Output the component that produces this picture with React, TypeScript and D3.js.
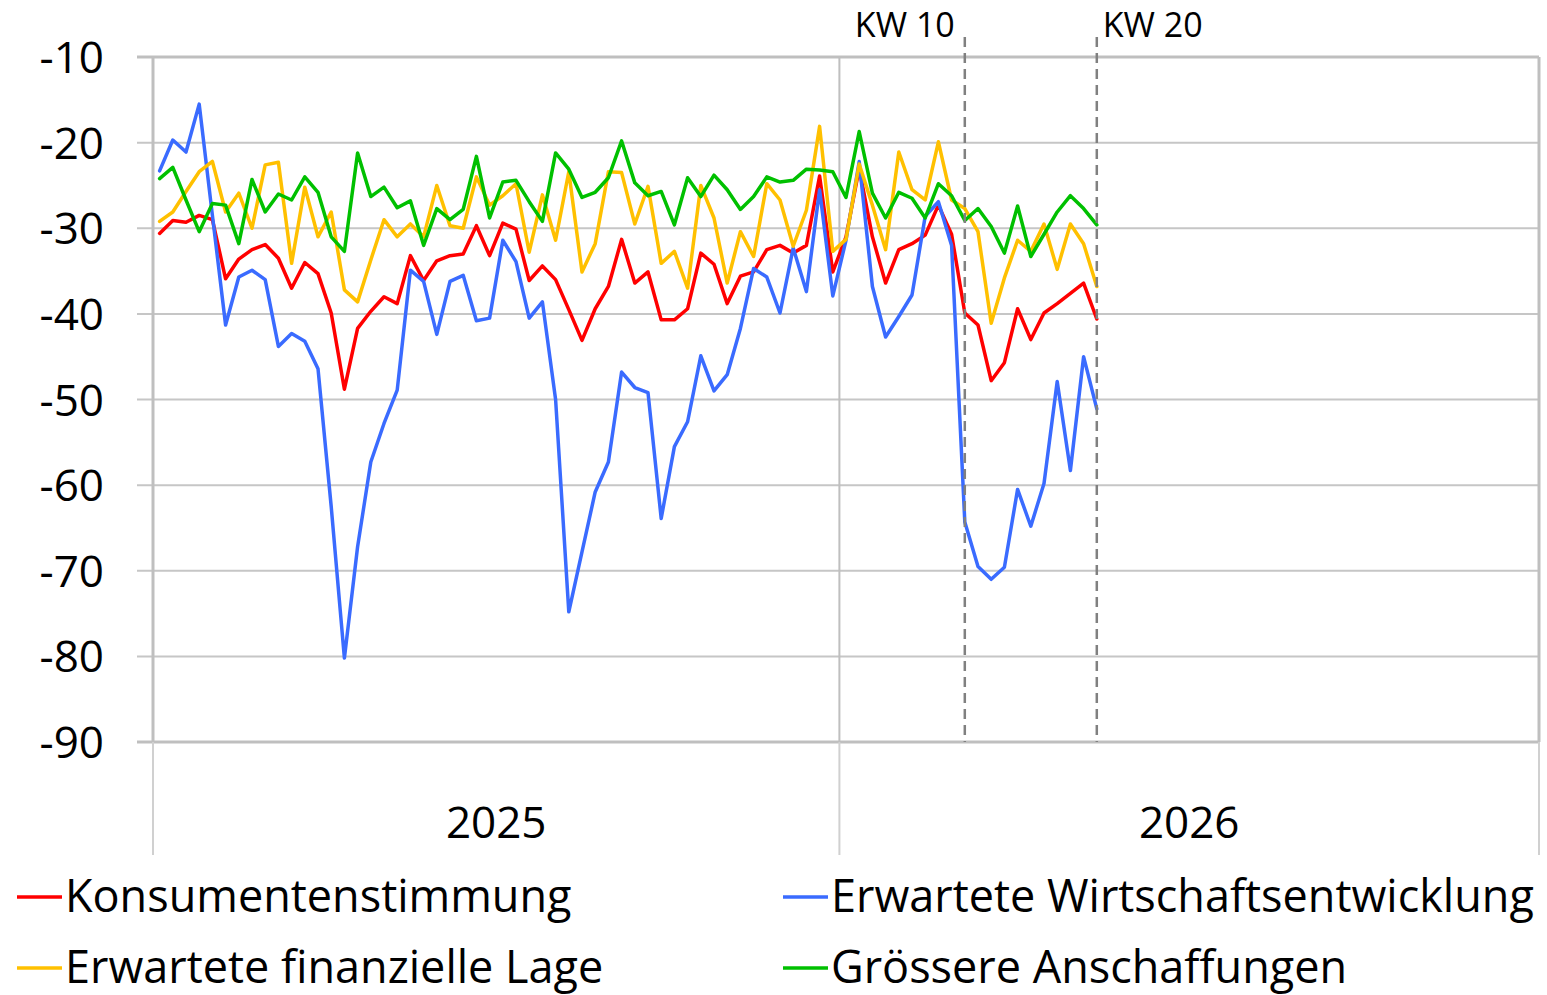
import React from "react";
import * as d3 from "d3";

const years = ["2025", "2026"];
const weeksPerYear = [52, 53];
const yTicks = [-10, -20, -30, -40, -50, -60, -70, -80, -90];
const markers = [
  { label: "KW 10", yearIndex: 1, week: 10, side: "left" },
  { label: "KW 20", yearIndex: 1, week: 20, side: "right" },
];

const konsumentenstimmung = [
  -30.6, -29.1, -29.3, -28.5, -29.0, -35.9, -33.6, -32.5, -31.9, -33.5, -37.0, -34.0, -35.3, -39.9,
  -48.8, -41.7, -39.7, -38.0, -38.8, -33.2, -36.1, -33.8, -33.2, -33.0, -29.7, -33.2, -29.4, -30.1,
  -36.1, -34.4, -36.0, -39.5, -43.1, -39.4, -36.8, -31.3, -36.4, -35.1, -40.7, -40.7, -39.4, -32.9,
  -34.2, -38.8, -35.6, -35.1, -32.5, -32.0, -32.9, -32.0, -23.9, -35.1,
  -31.0, -23.0, -31.0, -36.4, -32.5, -31.8, -30.8, -27.3, -30.7, -39.9, -41.3, -47.8, -45.7, -39.4,
  -43.0, -39.9, -38.8, -37.6, -36.4, -40.6,
];

const wirtschaftsentwicklung = [
  -23.3, -19.7, -21.1, -15.5, -28.5, -41.3, -35.7, -34.9, -36.0, -43.8, -42.3, -43.2, -46.4, -62.5,
  -80.2, -67.2, -57.3, -52.8, -48.9, -34.9, -36.2, -42.4, -36.2, -35.5, -40.8, -40.5, -31.4, -33.9,
  -40.5, -38.6, -50.0, -74.8, -67.8, -60.8, -57.3, -46.8, -48.6, -49.2, -63.9, -55.5, -52.6, -44.9,
  -49.0, -47.1, -41.7, -34.7, -35.7, -39.9, -32.3, -37.4, -25.5, -37.9,
  -31.4, -22.2, -36.8, -42.7, -40.3, -37.8, -28.6, -26.9, -32.0, -64.3, -69.5, -71.0, -69.6, -60.5,
  -64.8, -59.8, -47.9, -58.3, -45.0, -51.1,
];

const finanzielleLage = [
  -29.2, -28.1, -25.7, -23.4, -22.2, -28.1, -25.9, -30.0, -22.6, -22.3, -34.1, -25.2, -31.0, -28.1,
  -37.2, -38.6, -33.7, -29.0, -31.0, -29.5, -31.0, -25.0, -29.7, -30.0, -24.0, -27.3, -26.2, -24.8,
  -32.8, -26.1, -31.4, -23.4, -35.1, -31.8, -23.4, -23.5, -29.5, -25.1, -34.1, -32.7, -37.0, -25.0,
  -28.8, -36.4, -30.4, -33.3, -24.8, -26.7, -32.1, -27.9, -18.1, -32.7,
  -31.3, -22.5, -27.3, -32.5, -21.1, -25.5, -26.7, -19.9, -26.7, -27.7, -30.4, -41.1, -35.8, -31.4,
  -32.7, -29.5, -34.8, -29.5, -31.8, -36.8,
];

const anschaffungen = [
  -24.2, -22.9, -26.7, -30.4, -27.1, -27.3, -31.8, -24.3, -28.1, -26.0, -26.7, -24.0, -25.8, -31.0,
  -32.7, -21.2, -26.3, -25.2, -27.6, -26.8, -32.0, -27.7, -29.0, -27.8, -21.6, -28.8, -24.6, -24.4,
  -26.9, -29.2, -21.2, -23.1, -26.4, -25.8, -24.1, -19.8, -24.7, -26.2, -25.7, -29.6, -24.1, -26.3,
  -23.8, -25.5, -27.8, -26.3, -24.0, -24.6, -24.4, -23.1, -23.2, -23.4,
  -26.4, -18.7, -25.9, -28.8, -25.8, -26.5, -28.8, -24.8, -26.2, -29.1, -27.7, -29.8, -32.9, -27.4,
  -33.3, -30.7, -28.1, -26.2, -27.7, -29.6,
];

const series = [
  { name: "Konsumentenstimmung", color: "#ff0000", values: konsumentenstimmung },
  { name: "Erwartete Wirtschaftsentwicklung", color: "#3a6bff", values: wirtschaftsentwicklung },
  { name: "Erwartete finanzielle Lage", color: "#ffc000", values: finanzielleLage },
  { name: "Grössere Anschaffungen", color: "#00c000", values: anschaffungen },
];

const FONT = "'Open Sans', 'Noto Sans', sans-serif";

export default function App() {
  const W = 1547;
  const H = 995;
  const left = 153;
  const right = 1539;
  const top = 57;
  const bottom = 742;
  const axisBottom = 855;

  const totalWeeks = d3.sum(weeksPerYear);
  const x = d3
    .scaleBand<number>()
    .domain(d3.range(totalWeeks))
    .range([left, right])
    .padding(0);
  const cx = (i: number) => (x(i) as number) + x.bandwidth() / 2;
  const y = d3.scaleLinear().domain([-90, -10]).range([bottom, top]);

  const line = d3
    .line<number>()
    .x((_, i) => cx(i))
    .y((v) => y(v));

  const yearStarts = weeksPerYear.map((_, k) => d3.sum(weeksPerYear.slice(0, k)));
  const boundaries = [...yearStarts.map((s) => x(s) as number), right];

  const legendItems = [
    { s: series[0], lx: 17, ly: 897 },
    { s: series[1], lx: 783, ly: 897 },
    { s: series[2], lx: 17, ly: 968 },
    { s: series[3], lx: 783, ly: 968 },
  ];

  return (
    <svg
      width={W}
      height={H}
      style={{ position: "absolute", left: 0, top: 0, background: "#fff" }}
      fontFamily={FONT}
    >
      <rect x={0} y={0} width={W} height={H} fill="#fff" />
      {yTicks.map((t) => {
        const edge = t === -10 || t === -90;
        return (
          <line
            key={t}
            x1={137}
            x2={right}
            y1={y(t)}
            y2={y(t)}
            stroke={edge ? "#bfbfbf" : "#c6c6c6"}
            strokeWidth={edge ? 3 : 2}
          />
        );
      })}
      {boundaries.map((bx, k) => (
        <g key={k}>
          <line x1={bx} x2={bx} y1={bottom} y2={axisBottom} stroke="#d0d0d0" strokeWidth={2} />
          <line
            x1={bx}
            x2={bx}
            y1={top}
            y2={bottom}
            stroke="#bfbfbf"
            strokeWidth={k === 1 ? 2 : 3}
          />
        </g>
      ))}
      {yTicks.map((t) => (
        <text key={t} x={104} y={y(t) + 16} textAnchor="end" fontSize={44} fill="#000">
          {t}
        </text>
      ))}
      {years.map((yr, k) => (
        <text
          key={yr}
          x={(boundaries[k] + boundaries[k + 1]) / 2}
          y={838}
          textAnchor="middle"
          fontSize={44}
          fill="#000"
        >
          {yr}
        </text>
      ))}
      {series.map((s) => (
        <path
          key={s.name}
          d={line(s.values) || ""}
          fill="none"
          stroke={s.color}
          strokeWidth={3.5}
          strokeLinejoin="round"
          strokeLinecap="round"
        />
      ))}
      {markers.map((m) => {
        const idx = yearStarts[m.yearIndex] + m.week - 1;
        const mx = cx(idx);
        return (
          <g key={m.label}>
            <line
              x1={mx}
              x2={mx}
              y1={37}
              y2={bottom}
              stroke="#808080"
              strokeWidth={2.5}
              strokeDasharray="10,6"
            />
            <text
              x={m.side === "left" ? mx - 10 : mx + 6}
              y={37}
              textAnchor={m.side === "left" ? "end" : "start"}
              fontSize={34}
              fill="#000"
            >
              {m.label}
            </text>
          </g>
        );
      })}
      {legendItems.map(({ s, lx, ly }) => (
        <g key={s.name}>
          <line x1={lx} x2={lx + 45} y1={ly} y2={ly} stroke={s.color} strokeWidth={3.5} />
          <text x={lx + 48} y={ly + 15} fontSize={45} fill="#000">
            {s.name}
          </text>
        </g>
      ))}
    </svg>
  );
}
